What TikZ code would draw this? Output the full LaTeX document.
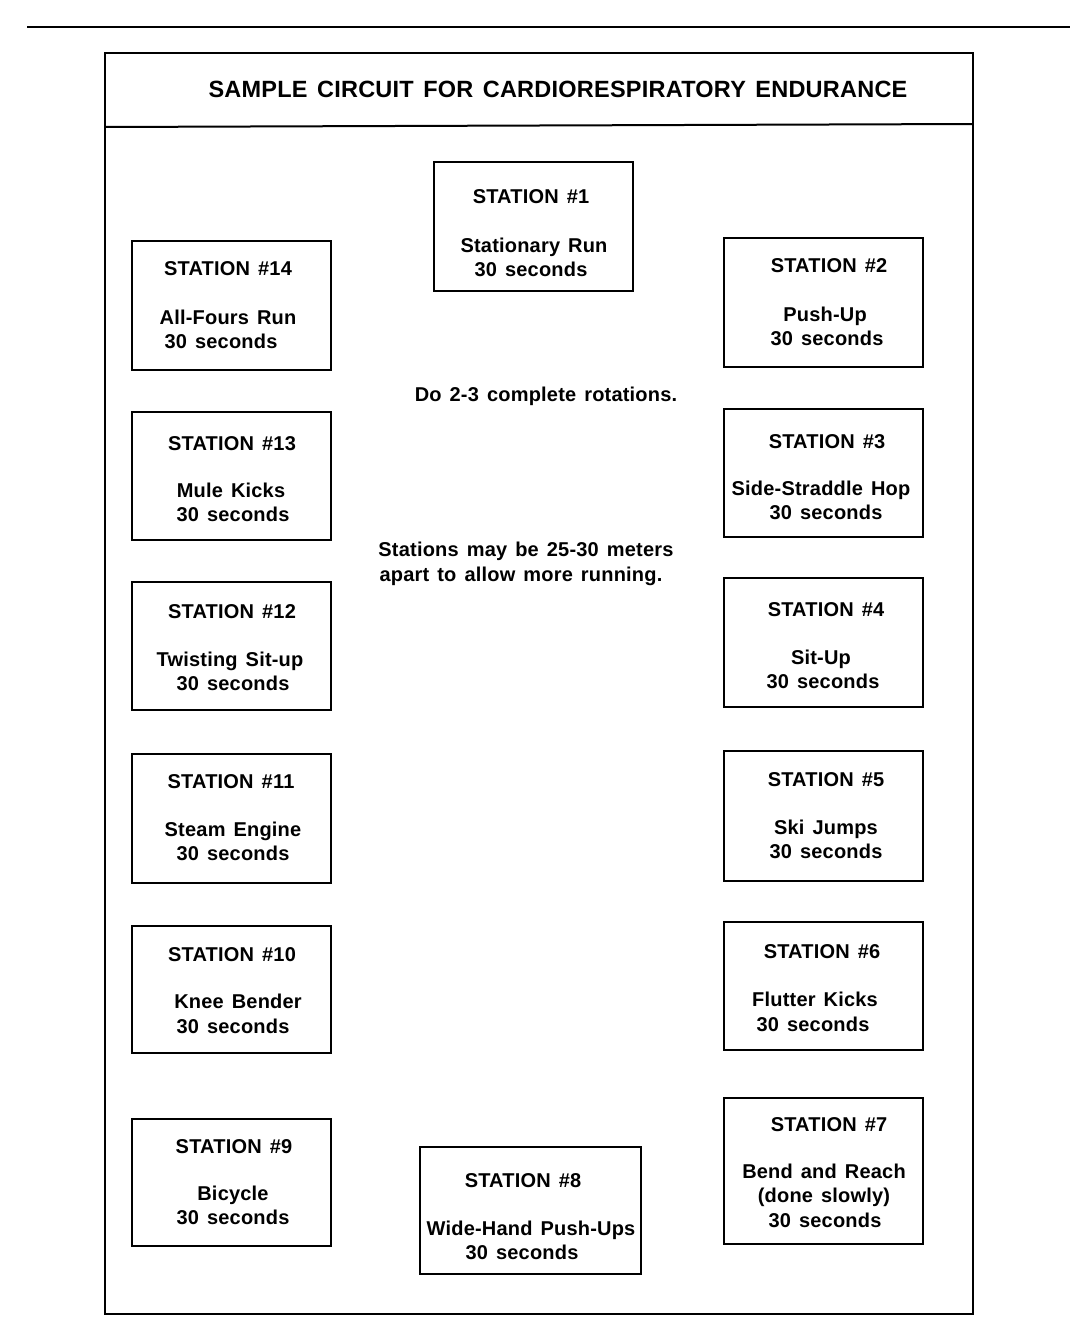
\documentclass[tikz,border=0pt]{standalone}
\usepackage{fontspec}
\setmainfont{Liberation Sans}
\newfontfamily\stfont[LetterSpace=1.0,WordSpace=1.6]{Liberation Sans}
\newfontfamily\ttlfont[LetterSpace=1.0,WordSpace=1.4]{Liberation Sans}
\begin{document}
\begin{tikzpicture}[x=1pt,y=-1pt,
  rule/.style={line width=2pt},
  stbox/.style={draw, line width=2pt, inner sep=0pt, minimum width=199pt},
  stline/.style={font=\stfont\bfseries\fontsize{20}{24}\selectfont, anchor=base, inner sep=0pt},
  note/.style={font=\stfont\bfseries\fontsize{20}{24}\selectfont, anchor=base, inner sep=0pt},
  titletext/.style={font=\ttlfont\bfseries\fontsize{23.5}{28}\selectfont, anchor=base, inner sep=0pt}]
\useasboundingbox (0,0) rectangle (1086,1336);
\newcommand\stl[4]{\node[stline] (#1) at (#2,#3) {#4};}
% top rule and frame
\draw[rule] (27,27) -- (1070,27);
\draw[rule] (105,53) rectangle (973,1314);
\draw[rule] (105,127) -- (973,124);
\node[titletext] (title) at (558,97) {SAMPLE CIRCUIT FOR CARDIORESPIRATORY ENDURANCE};
% boxes
\node[stbox, minimum height=129pt] (s1) at (533.5,226.5) {};
\node[stbox, minimum height=129pt] (s14) at (231.5,305.5) {};
\node[stbox, minimum height=129pt] (s2) at (823.5,302.5) {};
\node[stbox, minimum height=128pt] (s13) at (231.5,476) {};
\node[stbox, minimum height=128pt] (s3) at (823.5,473) {};
\node[stbox, minimum height=128pt] (s12) at (231.5,646) {};
\node[stbox, minimum height=129pt] (s4) at (823.5,642.5) {};
\node[stbox, minimum height=129pt] (s11) at (231.5,818.5) {};
\node[stbox, minimum height=130pt] (s5) at (823.5,816) {};
\node[stbox, minimum height=127pt] (s10) at (231.5,989.5) {};
\node[stbox, minimum height=128pt] (s6) at (823.5,986) {};
\node[stbox, minimum height=127pt] (s9) at (231.5,1182.5) {};
\node[stbox, minimum height=127pt, minimum width=221pt] (s8) at (530.5,1210.5) {};
\node[stbox, minimum height=146pt] (s7) at (823.5,1171) {};
% texts
\stl{t1a}{531}{203}{STATION \#1}
\stl{t1b}{534}{252}{Stationary Run}
\stl{t1c}{531}{276}{30 seconds}
\stl{t14a}{228}{275}{STATION \#14}
\stl{t14b}{228}{324}{All-Fours Run}
\stl{t14c}{221}{348}{30 seconds}
\stl{t2a}{829}{272}{STATION \#2}
\stl{t2b}{825}{321}{Push-Up}
\stl{t2c}{827}{345}{30 seconds}
\stl{t13a}{232}{450}{STATION \#13}
\stl{t13b}{231}{497}{Mule Kicks}
\stl{t13c}{233}{521}{30 seconds}
\stl{t3a}{827}{448}{STATION \#3}
\stl{t3b}{821}{495}{Side-Straddle Hop}
\stl{t3c}{826}{519}{30 seconds}
\stl{t12a}{232}{618}{STATION \#12}
\stl{t12b}{230}{666}{Twisting Sit-up}
\stl{t12c}{233}{690}{30 seconds}
\stl{t4a}{826}{616}{STATION \#4}
\stl{t4b}{821}{664}{Sit-Up}
\stl{t4c}{823}{688}{30 seconds}
\stl{t11a}{231}{788}{STATION \#11}
\stl{t11b}{233}{836}{Steam Engine}
\stl{t11c}{233}{860}{30 seconds}
\stl{t5a}{826}{786}{STATION \#5}
\stl{t5b}{826}{834}{Ski Jumps}
\stl{t5c}{826}{858}{30 seconds}
\stl{t10a}{232}{961}{STATION \#10}
\stl{t10b}{238}{1008}{Knee Bender}
\stl{t10c}{233}{1033}{30 seconds}
\stl{t6a}{822}{958}{STATION \#6}
\stl{t6b}{815}{1006}{Flutter Kicks}
\stl{t6c}{813}{1031}{30 seconds}
\stl{t9a}{234}{1153}{STATION \#9}
\stl{t9b}{233}{1200}{Bicycle}
\stl{t9c}{233}{1224}{30 seconds}
\stl{t8a}{523}{1187}{STATION \#8}
\stl{t8b}{531}{1235}{Wide-Hand Push-Ups}
\stl{t8c}{522}{1259}{30 seconds}
\stl{t7a}{829}{1131}{STATION \#7}
\stl{t7b}{824}{1178}{Bend and Reach}
\stl{t7c}{824}{1202}{(done slowly)}
\stl{t7d}{825}{1227}{30 seconds}
% notes
\node[note] (n1) at (546,401) {Do 2-3 complete rotations.};
\node[note] (n2) at (526,556) {Stations may be 25-30 meters};
\node[note] (n3) at (521,581) {apart to allow more running.};
\end{tikzpicture}
\end{document}
